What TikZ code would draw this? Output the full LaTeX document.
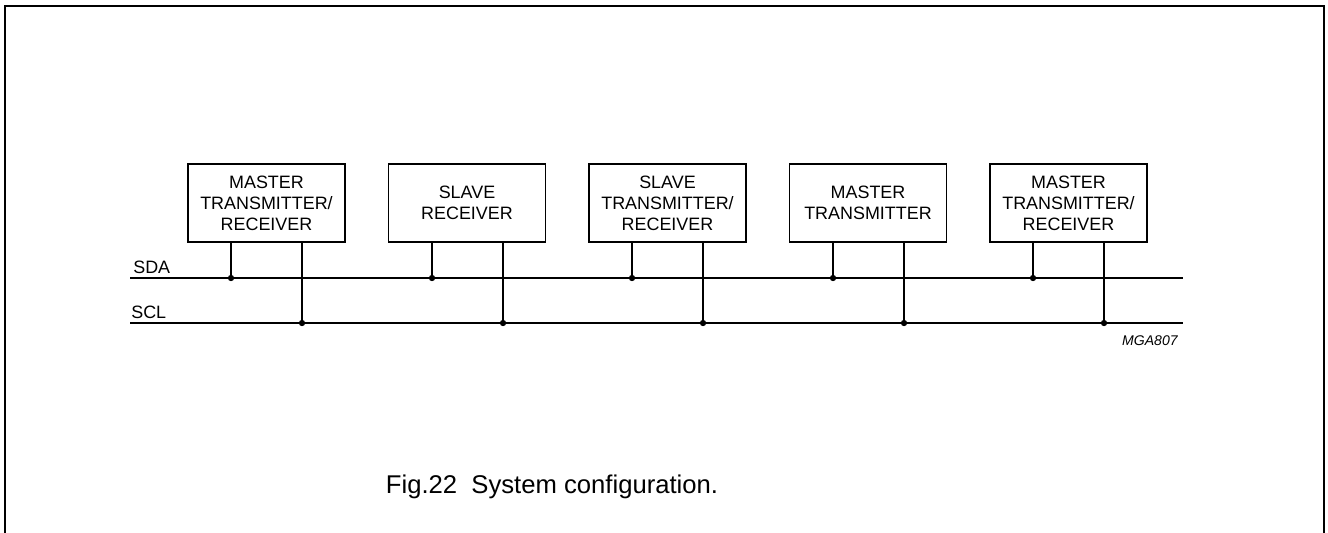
\documentclass[tikz,border=0pt]{standalone}
\usepackage{fontspec}
\setmainfont{Liberation Sans}
\usepackage{tikz}

\begin{document}
\begin{tikzpicture}[x=0.02cm, y=-0.02cm,
        box/.style ={draw, line width=1.1pt, minimum width=3.14cm, minimum height=1.56cm,
                     align=center, font=\fontsize{10.2}{12}\selectfont, inner sep=0pt},
        bus/.style ={line width=0.65pt},
        tap/.style ={line width=0.65pt},
        dot/.style ={circle, fill, inner sep=0pt, minimum size=3.6pt},
        lbl/.style ={font=\fontsize{10.2}{12}\selectfont, anchor=west, inner sep=0pt},]

    \useasboundingbox (0,0) rectangle (1328,532);
    \draw[line width=1.1pt] (5,540) -- (5,6) -- (1324,6) -- (1324,540);

    \node[box] (B1) at (266.5,203) {MASTER\\TRANSMITTER/\\RECEIVER};
    \node[box] (B2) at (467,203)   {SLAVE\\RECEIVER};
    \node[box] (B3) at (667.5,203) {SLAVE\\TRANSMITTER/\\RECEIVER};
    \node[box] (B4) at (868,203)   {MASTER\\TRANSMITTER};
    \node[box] (B5) at (1068.5,203){MASTER\\TRANSMITTER/\\RECEIVER};

    \coordinate (sdaL) at (130,278);
    \coordinate (sdaR) at (1183,278);
    \coordinate (sclL) at (130,323);
    \coordinate (sclR) at (1183,323);

    \draw[bus] (sdaL) -- (sdaR);
    \draw[bus] (sclL) -- (sclR);

    \node[lbl] (sda) at (133,267) {SDA};
    \node[lbl] (scl) at (131,312) {SCL};

    % taps on SDA
    \node[dot] (d1) at (231,278) {};
    \node[dot] (d2) at (432,278) {};
    \node[dot] (d3) at (632,278) {};
    \node[dot] (d4) at (833,278) {};
    \node[dot] (d5) at (1033,278) {};
    % taps on SCL
    \node[dot] (c1) at (302,323) {};
    \node[dot] (c2) at (503,323) {};
    \node[dot] (c3) at (703,323) {};
    \node[dot] (c4) at (904,323) {};
    \node[dot] (c5) at (1104,323) {};

    \draw[tap] (B1.south -| d1) -- (d1.center);
    \draw[tap] (B2.south -| d2) -- (d2.center);
    \draw[tap] (B3.south -| d3) -- (d3.center);
    \draw[tap] (B4.south -| d4) -- (d4.center);
    \draw[tap] (B5.south -| d5) -- (d5.center);
    \draw[tap] (B1.south -| c1) -- (c1.center);
    \draw[tap] (B2.south -| c2) -- (c2.center);
    \draw[tap] (B3.south -| c3) -- (c3.center);
    \draw[tap] (B4.south -| c4) -- (c4.center);
    \draw[tap] (B5.south -| c5) -- (c5.center);

    \node[font=\fontsize{8}{10}\selectfont\itshape, anchor=east, inner sep=0pt]
        (code) at (1178,341) {MGA807};

    \node[font=\fontsize{14.6}{17}\selectfont, inner sep=0pt]
        (cap) at (552,487) {Fig.22\ \ System configuration.};
\end{tikzpicture}
\end{document}
